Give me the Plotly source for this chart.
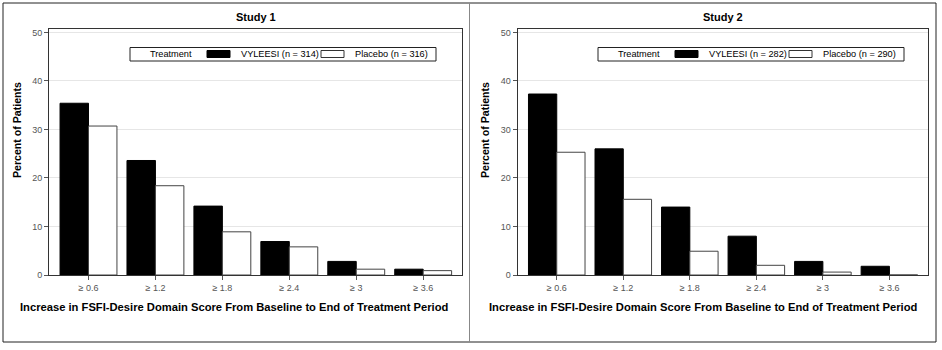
import plotly.graph_objects as go

W, H = 942, 350

categories = ["≥ 0.6", "≥ 1.2", "≥ 1.8", "≥ 2.4", "≥ 3", "≥ 3.6"]
study1_vyleesi = [35.4, 23.6, 14.2, 6.9, 2.8, 1.2]
study1_placebo = [30.7, 18.4, 8.9, 5.8, 1.2, 0.9]
study2_vyleesi = [37.3, 26.0, 14.0, 8.0, 2.8, 1.8]
study2_placebo = [25.3, 15.6, 4.9, 2.0, 0.6, 0.0]
study1_names = ["VYLEESI (n = 314)", "Placebo (n = 316)"]
study2_names = ["VYLEESI (n = 282)", "Placebo (n = 290)"]
panel_titles = ["Study 1", "Study 2"]
legend_title = "Treatment"
y_ticks = [0, 10, 20, 30, 40, 50]
x_title = "Increase in FSFI-Desire Domain Score From Baseline to End of Treatment Period"
y_title = "Percent of Patients"

FONT = "Liberation Sans, Arial, sans-serif"

def px(x):
    return x / W

def py(y):
    return 1 - y / H

fig = go.Figure()

def add_pair(v, p, names, xa, ya):
    fig.add_trace(go.Bar(x=categories, y=v, name=names[0], xaxis=xa, yaxis=ya,
                         marker=dict(color="black", line=dict(color="black", width=1)),
                         showlegend=False, offsetgroup="a"))
    fig.add_trace(go.Bar(x=categories, y=p, name=names[1], xaxis=xa, yaxis=ya,
                         marker=dict(color="white", line=dict(color="#444", width=1)),
                         showlegend=False, offsetgroup="b"))

add_pair(study1_vyleesi, study1_placebo, study1_names, "x", "y")
add_pair(study2_vyleesi, study2_placebo, study2_names, "x2", "y2")

tickfont = dict(family=FONT, size=9, color="#555")

def xaxis(dom, anchor):
    return dict(domain=dom, range=[-0.59, 5.58], showline=True, mirror=True,
                linecolor="#333", linewidth=1, ticks="outside", ticklen=4,
                tickcolor="#555", tickfont=tickfont, showgrid=False,
                automargin=False, anchor=anchor)

def yaxis(anchor):
    return dict(domain=[py(275), py(29)], range=[0, 50.7], tickvals=y_ticks,
                showline=True, mirror=True, linecolor="#333", linewidth=1,
                ticks="outside", ticklen=4, tickcolor="#555", tickfont=tickfont,
                showgrid=True, gridcolor="#e6e6e6", gridwidth=1, zeroline=False,
                anchor=anchor, automargin=False)

fig.update_layout(
    width=W, height=H,
    margin=dict(l=0, r=0, t=0, b=0),
    paper_bgcolor="white", plot_bgcolor="white",
    barmode="group", bargap=0.15, bargroupgap=0,
    xaxis=xaxis([px(49), px(462)], "y"),
    yaxis=yaxis("x"),
    xaxis2=xaxis([px(517.5), px(928)], "y2"),
    yaxis2=yaxis("x2"),
    font=dict(family=FONT),
    showlegend=False,
)

panel_centers = [234.5, 703]
title_centers = [256, 723]
ytitle_x = [17, 485]
offsets = [0, 468]
names_list = [study1_names, study2_names]

def ann(text, x, y, size, xanchor="center", bold=False, angle=0):
    f = dict(family=FONT, size=size, color="black")
    if bold:
        f["weight"] = "bold"
    fig.add_annotation(text=text, x=px(x), y=py(y), xref="paper", yref="paper",
                       xanchor=xanchor, yanchor="middle", showarrow=False, font=f,
                       textangle=angle)

for i in range(2):
    ann(panel_titles[i], title_centers[i], 17, 11, bold=True)
    ann(x_title, panel_centers[i], 307, 11.2, bold=True)
    ann(y_title, ytitle_x[i], 130, 10.6, bold=True, angle=-90)
    o = offsets[i]
    fig.add_shape(type="rect", xref="paper", yref="paper", x0=px(130 + o), x1=px(436 + o),
                  y0=py(61), y1=py(47.5), line=dict(color="#222", width=1), fillcolor="white")
    ann(legend_title, 171 + o, 54, 9.2)
    fig.add_shape(type="rect", xref="paper", yref="paper", x0=px(207 + o), x1=px(230 + o),
                  y0=py(57.5), y1=py(50.5), line=dict(color="black", width=1), fillcolor="black")
    ann(names_list[i][0], 239 + o, 54, 9.2, xanchor="left")
    fig.add_shape(type="rect", xref="paper", yref="paper", x0=px(321 + o), x1=px(344 + o),
                  y0=py(57.5), y1=py(50.5), line=dict(color="#333", width=1), fillcolor="white")
    ann(names_list[i][1], 353 + o, 54, 9.2, xanchor="left")

# outer frames
fig.add_shape(type="rect", xref="paper", yref="paper", x0=px(3), x1=px(936), y0=py(342), y1=py(3),
              line=dict(color="#222", width=1))
fig.add_shape(type="line", xref="paper", yref="paper", x0=px(469.5), x1=px(469.5), y0=py(342), y1=py(3),
              line=dict(color="#888", width=1))

fig.write_html("out.html")
